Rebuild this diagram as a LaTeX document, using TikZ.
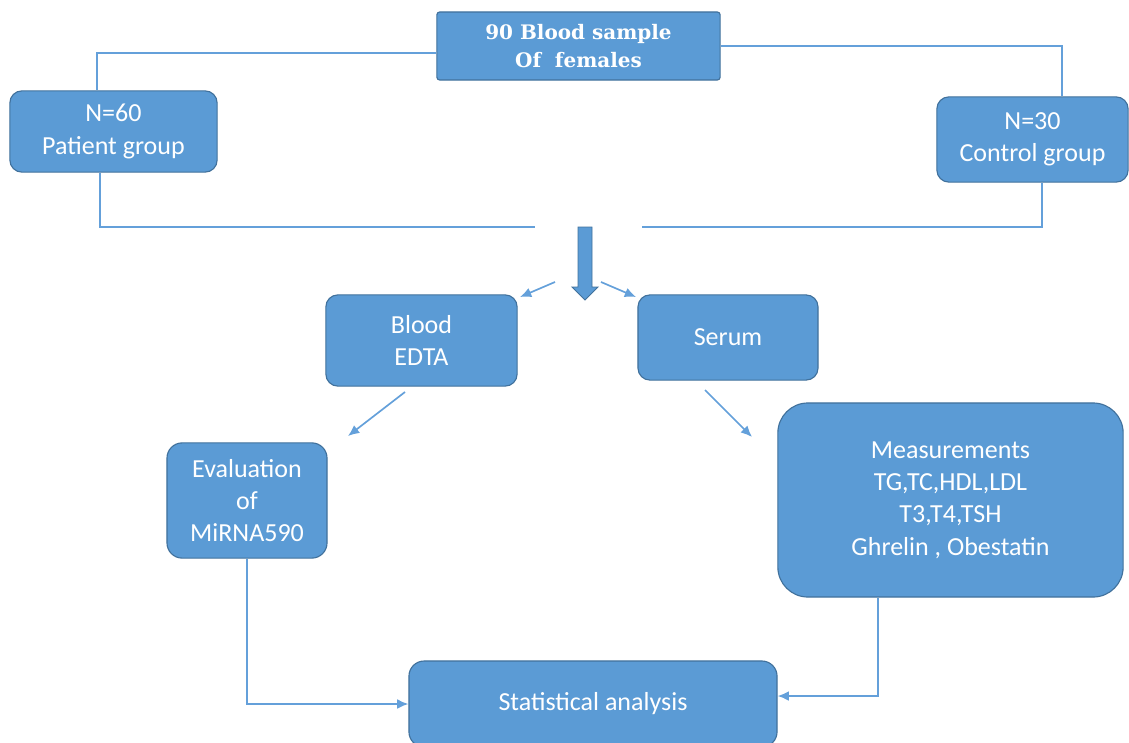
\documentclass[tikz,border=0pt]{standalone}
\usepackage{fontspec}
\setmainfont{Carlito}
\newfontfamily\slabfont{DejaVu Serif}
\definecolor{boxblue}{RGB}{91,155,213}
\definecolor{boxedge}{RGB}{65,113,156}
\definecolor{lineblue}{RGB}{100,160,218}
\usetikzlibrary{arrows.meta,positioning,calc}

\begin{document}
\begin{tikzpicture}[
    x=0.025cm, y=-0.025cm,
    box/.style={rectangle, rounded corners=0.3cm, draw=boxedge, fill=boxblue, line width=0.8pt,
        text=white, align=center, font=\fontsize{18.5}{23}\selectfont},
    link/.style={draw=lineblue, line width=1.2pt},
    arrow/.style={-{Latex[length=8pt,width=7pt]}, draw=lineblue, line width=1.2pt}
]
    \useasboundingbox (0,0) rectangle (1129,742);
    \clip (0,0) rectangle (1129,742);

    \node[box, rounded corners=2pt, minimum width=7.08cm, minimum height=1.7cm,
        font=\slabfont\bfseries\fontsize{14.2}{20}\selectfont] (sample) at (578.5,46) {90 Blood sample\\Of\ \ females};
    \node[box, minimum width=5.18cm, minimum height=2.03cm] (patient) at (113.5,131.5) {N=60\\Patient group};
    \node[box, minimum width=4.78cm, minimum height=2.13cm] (control) at (1032.5,139.5) {N=30\\Control group};
    \node[box, minimum width=4.78cm, minimum height=2.28cm] (blood) at (421.5,340.5) {Blood\\EDTA};
    \node[box, minimum width=4.5cm, minimum height=2.13cm] (serum) at (728,337.5) {Serum};
    \node[box, rounded corners=0.38cm, minimum width=4cm, minimum height=2.88cm] (eval) at (247,500.5) {Evaluation\\of\\MiRNA590};
    \node[box, rounded corners=0.75cm, minimum width=8.63cm, minimum height=4.85cm] (meas) at (950.5,500)
        {Measurements\\TG,TC,HDL,LDL\\T3,T4,TSH\\Ghrelin , Obestatin};
    \node[box, rounded corners=0.38cm, minimum width=9.2cm, minimum height=2.15cm] (stats) at (593,704) {Statistical analysis};

    % free ends of the split
    \coordinate (joinL) at (535,227);
    \coordinate (joinR) at (642,227);
    \coordinate (forkL) at (555,282);
    \coordinate (toblood) at (520,297);
    \coordinate (forkR) at (601,282);
    \coordinate (toserum) at (636,297);
    \coordinate (bloodout) at (405,392);
    \coordinate (toeval) at (348,436);
    \coordinate (serumout) at (705,390);
    \coordinate (tomeas) at (752,437);

    \draw[link] ($(sample.west)+(0,7)$) -| ($(patient.north)+(-16.5,0)$);
    \draw[link] (sample.east) -| ($(control.north)+(29.5,0)$);
    \draw[link] ($(patient.south)+(-13.5,0)$) |- (joinL);
    \draw[link] ($(control.south)+(9.5,0)$) |- (joinR);

    % big down arrow
    \draw[fill=boxblue, draw=boxedge, line width=0.6pt] (578,227) -- (592,227) -- (592,287) -- (598,287)
        -- (585,300) -- (572,287) -- (578,287) -- cycle;

    \draw[arrow] (forkL) -- (toblood);
    \draw[arrow] (forkR) -- (toserum);
    \draw[arrow] (bloodout) -- (toeval);
    \draw[arrow] (serumout) -- (tomeas);
    \draw[arrow] (eval.south) |- (stats.west);
    \draw[arrow] ($(meas.south)+(-72.5,0)$) |- ($(stats.east)+(0,-8)$);
\end{tikzpicture}
\end{document}
